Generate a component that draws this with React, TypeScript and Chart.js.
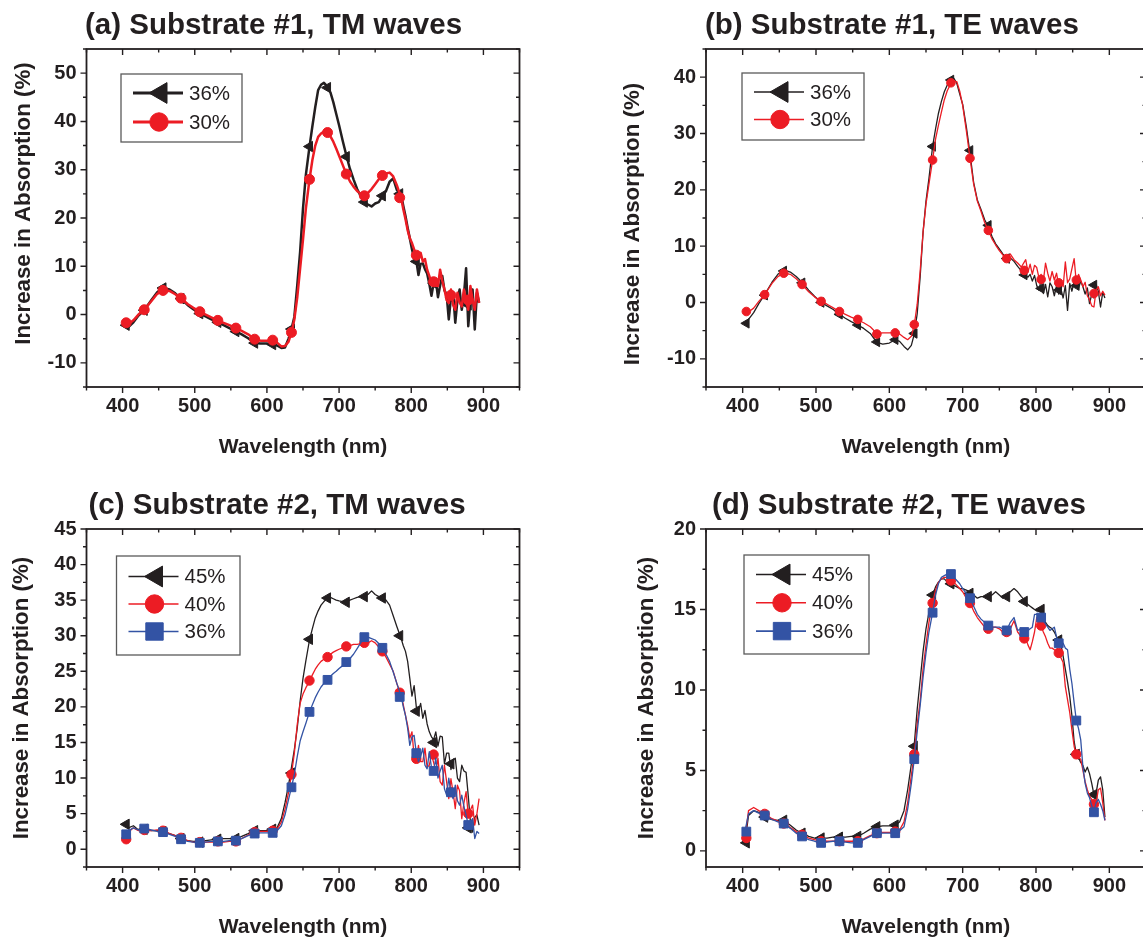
import React, { useEffect, useRef } from 'react';
import { Chart, registerables } from 'chart.js';
import { drawPoint } from 'chart.js/helpers';

Chart.register(...registerables);

const FONT = '"Liberation Sans", Arial, Helvetica, sans-serif';
const INK = '#231f20';
const BLACK = '#231f20';
const RED = '#ec1c24';
const BLUE = '#3353a4';

// Wavelength grid (nm) shared by every curve
const wavelength = [
  403, 408, 415, 422, 430, 440, 448, 456, 465, 473, 481, 490, 498, 507, 515, 523, 532, 540, 548, 557, 565, 574, 583, 591, 600, 608, 614, 620, 625, 630,
  634, 638, 642, 646, 650, 654, 659, 663, 667, 671, 675, 679, 684, 688, 692, 696, 700,
  705, 710, 715, 720, 725, 730, 735, 740, 745, 750, 755, 760, 765, 770, 775, 780, 786,
  789, 792, 795, 798, 801, 804, 807, 810, 813, 816, 819, 822, 825, 828, 831, 834, 837, 840, 843, 846, 849, 852, 855, 858, 861, 864, 867, 870, 873, 876, 879, 882, 885, 888, 891, 894,
];
// Wavelengths where the symbols sit
const markerWavelength = [405, 430, 456, 481, 507, 532, 557, 583, 608, 634, 659, 684, 710, 735, 760, 784, 807, 831, 855, 879];

// (a) Substrate #1, TM waves
const aTM36 = [
  -1.8, -2.6, -1.6, -0.2, 0.9, 3.0, 4.6, 5.5, 5.2, 4.4, 3.3, 2.0, 1.1, 0.2, -0.4, -1.0, -1.6, -2.2, -2.8, -3.5, -4.1, -4.9, -5.9, -6.0, -6.0, -6.2, -6.4, -6.9, -6.8, -5.0,
  -3.0, -0.5, 6, 13, 22, 29, 34.8, 39, 43, 46.5, 47.6, 48.0, 47.2, 46.0, 44.0, 41.6, 39.2,
  36.0, 33.0, 30.2, 28.0, 26.0, 24.5, 23.3, 22.8, 22.4, 23.0, 23.3, 24.5, 25.6, 27.5, 28.2, 25.8, 24.8,
  22.5, 20.4, 18.0, 15.8, 13.5, 11.8, 11.2, 8.2, 10.5, 10.6, 9.4, 8.5, 6.4, 3.9, 6.5, 7.2, 3.6, 6.0, 8.0, 5.0, 4.2, -1.0, 3.5, 4.6, -1.7, 3.0, 5.2, 1.0, 4.0, 9.6, -2.4, 3.0, 5.2, -3.1, 4.5, 2.5,
];
const aTM30 = [
  -1.7, -2.0, -1.2, 0.0, 1.0, 2.8, 4.3, 5.0, 4.9, 4.2, 3.4, 2.2, 1.4, 0.6, 0.0, -0.6, -1.2, -1.7, -2.2, -2.8, -3.4, -4.1, -5.1, -5.4, -5.4, -5.3, -5.8, -6.6, -6.5, -5.6,
  -3.7, -1.0, 3.5, 9.5, 15.5, 22.0, 28.0, 32.0, 35.0, 36.8, 37.5, 37.9, 37.7, 36.9, 35.8, 34.4, 32.9,
  31.0, 29.1, 27.6, 26.5, 25.6, 25.0, 24.6, 25.2, 26.0, 27.0, 28.0, 28.8, 29.2, 29.4, 28.6, 26.8, 24.2,
  21.8, 19.8, 17.5, 15.8, 14.8, 13.5, 12.2, 12.4, 12.8, 11.0, 11.5, 9.3, 8.0, 6.6, 7.2, 6.0, 5.9, 9.3, 7.0, 5.2, 3.0, 2.4, 5.2, 2.0, 1.0, 4.5, 2.5, 1.7, 5.2, 3.0, 1.0, 5.9, 3.0, 1.0, 5.2, 2.4,
];
const aTM36Markers = [-2.2, 0.9, 5.5, 3.3, 0.2, -1.6, -3.5, -5.9, -6.2, -3.0, 34.8, 47.0, 32.7, 23.3, 24.6, 25.0, 11.0, 6.5, 3.5, 2.0];
const aTM30Markers = [-1.7, 1.0, 5.0, 3.4, 0.6, -1.2, -2.8, -5.1, -5.3, -3.7, 28.0, 37.7, 29.1, 24.6, 28.8, 24.2, 12.3, 6.8, 4.0, 3.0];

// (b) Substrate #1, TE waves
const bTE36 = [
  -3.8, -3.0, -1.8, -0.2, 1.4, 3.6, 5.0, 5.8, 5.4, 4.6, 3.6, 2.2, 1.1, 0.0, -0.6, -1.2, -2.1, -2.8, -3.4, -4.0, -4.6, -5.5, -7.1, -7.4, -7.2, -6.6, -6.9, -7.8, -8.4, -7.6,
  -5.6, -2.0, 4.5, 12.5, 18.0, 22.0, 27.7, 30.8, 33.6, 35.7, 37.4, 38.6, 39.5, 39.8, 38.9, 37.0, 35.2,
  31.2, 26.5, 21.3, 18.2, 16.5, 14.7, 13.4, 11.7, 10.4, 9.5, 8.6, 7.8, 7.9, 7.3, 6.4, 5.6, 4.7,
  4.5, 5.0, 3.8, 4.8, 3.0, 2.2, 4.0, 1.6, 3.2, 1.0, 3.5, 2.8, 1.2, 3.0, 1.5, 2.4, 0.8, 3.0, -1.4, 3.4, 2.0, 3.8, 4.2, 2.5, 3.8, 2.8, 1.5, 2.6, -0.2, 1.5, 0.8, 3.2, 2.0, -0.8, 1.8, 0.8,
];
const bTE30 = [
  -1.6, -1.7, -1.0, 0.2, 1.4, 3.4, 4.6, 5.2, 5.0, 4.2, 3.2, 1.9, 1.0, 0.2, -0.3, -0.9, -1.6, -2.1, -2.6, -3.1, -3.6, -4.3, -5.5, -5.4, -5.4, -5.3, -5.6, -6.2, -6.6, -6.0,
  -4.0, -0.3, 5.5, 12.5, 17.5, 21.0, 25.3, 29.0, 31.5, 33.8, 36.0, 37.6, 38.9, 39.3, 39.2, 37.5, 35.0,
  30.5, 25.6, 21.0, 18.0, 16.2, 14.2, 12.8, 11.3, 10.2, 9.2, 8.4, 7.8, 8.6, 7.6, 7.0, 6.3, 7.6,
  5.4, 6.8, 5.0, 6.6, 6.2, 4.4, 5.0, 3.8, 7.0, 5.2, 3.8, 5.5, 4.0, 5.2, 3.0, 4.0, 2.8, 7.2, 3.5, 4.2, 6.0, 7.8, 3.5, 5.0, 4.0, 2.8, 3.6, 1.2, 0.5, -0.6, -0.8, 2.2, 2.8, 1.2, 2.0, 1.3,
];
const bTE36Markers = [-3.7, 1.3, 5.6, 3.5, 0.0, -2.1, -4.0, -7.0, -6.6, -5.5, 27.7, 39.5, 27.0, 13.7, 7.8, 4.9, 2.5, 2.2, 3.0, 3.1];
const bTE30Markers = [-1.6, 1.4, 5.2, 3.2, 0.2, -1.6, -3.0, -5.6, -5.4, -3.9, 25.3, 39.0, 25.6, 12.8, 7.8, 5.7, 4.1, 3.5, 4.0, 1.6];

// (c) Substrate #2, TM waves
const cTM45 = [
  3.5, 3.0, 3.3, 2.7, 2.8, 2.6, 2.6, 2.5, 2.2, 1.9, 1.5, 1.2, 1.1, 1.1, 1.2, 1.3, 1.4, 1.5, 1.5, 1.5, 1.8, 2.2, 2.7, 2.6, 2.6, 2.8, 3.0, 4.3, 6.5, 9.0,
  11.5, 14.0, 17.0, 20.8, 24.0, 26.5, 29.4, 31.0, 32.5, 33.5, 34.3, 34.8, 35.3, 35.4, 35.2, 35.0, 34.9,
  34.8, 34.7, 35.0, 35.2, 35.4, 35.5, 35.5, 35.8, 36.3, 35.8, 35.5, 35.3, 35.0, 34.3, 32.8, 31.3, 29.6,
  28.6, 27.8, 26.4, 24.0, 21.5, 23.0, 20.0, 19.4, 20.5, 18.4, 19.5, 17.6, 16.5, 15.8, 15.4, 16.5, 14.5, 15.9, 15.8, 12.0, 13.5, 13.5, 11.2, 12.5, 12.8, 10.0, 9.5, 11.8, 11.0, 10.8, 7.5, 3.8, 2.4, 4.5, 4.8, 3.4,
];
const cTM40 = [
  1.4, 2.4, 3.0, 2.6, 2.6, 2.6, 2.7, 2.7, 2.2, 1.9, 1.6, 1.2, 1.0, 0.9, 1.0, 1.0, 1.0, 1.0, 1.1, 1.1, 1.5, 2.0, 2.5, 2.5, 2.5, 2.5, 2.8, 3.8, 5.6, 8.0,
  10.5, 13.5, 17.5, 20.5, 21.8, 22.7, 23.6, 24.5, 25.3, 25.9, 26.4, 26.7, 27.0, 27.4, 27.7, 27.9, 28.1,
  28.3, 28.5, 28.6, 28.8, 28.8, 28.9, 29.0, 29.0, 29.3, 29.0, 28.4, 27.8, 27.0, 26.0, 25.0, 23.3, 21.6,
  20.3, 18.8, 17.4, 15.6, 16.5, 13.0, 12.6, 14.6, 12.3, 12.3, 14.2, 11.5, 11.8, 13.2, 12.2, 10.9, 12.8, 9.5, 9.0, 11.8, 9.5, 7.1, 9.9, 8.0, 5.7, 9.0, 8.2, 4.3, 6.5, 8.1, 4.8, 5.5, 6.2, 3.4, 5.0, 7.1,
];
const cTM36 = [
  2.1, 2.6, 3.0, 2.7, 2.9, 2.7, 2.5, 2.4, 2.1, 1.8, 1.4, 1.1, 1.0, 0.9, 1.0, 1.1, 1.1, 1.1, 1.2, 1.2, 1.5, 1.9, 2.2, 2.3, 2.3, 2.3, 2.6, 3.3, 4.8, 7.0,
  8.7, 10.5, 13.0, 15.2, 16.5, 17.7, 19.3, 20.3, 21.3, 22.1, 22.8, 23.3, 23.8, 24.3, 24.7, 25.0, 25.4,
  25.8, 26.3, 26.8, 27.4, 28.2, 29.0, 29.8, 29.8, 29.6, 29.4, 28.9, 28.3, 27.4, 26.4, 24.9, 23.3, 21.5,
  20.0, 18.8, 17.0, 14.6, 15.8, 16.0, 13.5, 12.3, 13.0, 14.2, 11.8, 11.3, 13.7, 11.5, 10.9, 12.8, 10.0, 11.0, 11.8, 8.5, 7.6, 10.0, 8.0, 7.1, 9.0, 6.8, 6.2, 7.6, 6.0, 4.8, 3.4, 3.8, 4.3, 1.5, 2.5, 2.2,
];
const cTM45Markers = [3.5, 2.8, 2.5, 1.5, 1.0, 1.4, 1.5, 2.6, 2.8, 10.7, 29.5, 35.3, 34.7, 35.5, 35.3, 30.0, 19.4, 15.0, 12.0, 3.0];
const cTM40Markers = [1.4, 2.7, 2.6, 1.6, 1.0, 1.1, 1.1, 2.4, 2.6, 10.5, 23.7, 27.0, 28.5, 29.0, 27.8, 22.0, 12.7, 13.3, 8.0, 5.0];
const cTM36Markers = [2.1, 2.9, 2.4, 1.4, 0.9, 1.1, 1.2, 2.2, 2.3, 8.7, 19.3, 23.8, 26.3, 29.8, 28.3, 21.4, 13.5, 11.0, 8.0, 3.4];

// (d) Substrate #2, TE waves
const dTE45 = [
  0.5, 2.2, 2.5, 2.4, 2.1, 1.95, 1.9, 1.9, 1.6, 1.3, 1.1, 0.9, 0.8, 0.8, 0.8, 0.85, 0.85, 0.85, 0.9, 0.9, 1.1, 1.35, 1.5, 1.55, 1.55, 1.6, 1.8, 2.5, 3.8, 5.4,
  6.6, 8.8, 10.6, 12.4, 13.8, 14.8, 15.9, 16.4, 16.7, 16.9, 16.9, 16.7, 16.6, 16.5, 16.4, 16.3, 16.3,
  16.2, 16.1, 15.9, 15.7, 15.8, 15.8, 15.8, 15.9, 16.1, 15.9, 15.7, 15.9, 16.1, 16.3, 16.1, 15.8, 15.5,
  15.3, 15.2, 15.1, 15.0, 14.9, 14.9, 14.8, 14.4, 14.2, 14.0, 13.9, 13.8, 13.6, 13.3, 13.1, 12.8, 12.1, 11.3, 10.5, 9.6, 8.4, 6.8, 6.0, 5.8, 5.5, 5.3, 4.9, 5.2, 4.8, 4.2, 3.5, 3.6, 4.4, 4.6, 3.8, 2.1,
];
const dTE40 = [
  0.75, 2.5, 2.7, 2.5, 2.3, 2.0, 1.85, 1.75, 1.45, 1.2, 1.0, 0.8, 0.7, 0.6, 0.6, 0.6, 0.6, 0.6, 0.6, 0.6, 0.75, 0.95, 1.1, 1.15, 1.15, 1.15, 1.3, 1.8, 3.0, 4.7,
  6.0, 7.9, 9.3, 11.3, 12.8, 14.2, 15.4, 16.2, 16.7, 16.9, 17.0, 17.0, 16.8, 16.7, 16.5, 16.3, 16.1,
  15.7, 15.4, 14.9, 14.5, 14.2, 13.9, 13.8, 13.9, 13.9, 13.8, 13.6, 13.6, 13.8, 14.3, 13.6, 13.3, 13.2,
  12.8, 12.5, 13.0, 13.6, 14.5, 14.3, 14.0, 13.6, 13.3, 12.9, 12.6, 12.6, 12.5, 12.4, 12.3, 12.0, 11.7, 10.2, 9.4, 8.6, 7.5, 6.5, 5.9, 5.8, 5.7, 5.0, 4.3, 3.8, 3.4, 3.2, 2.9, 3.0, 3.8, 3.9, 3.0, 1.9,
];
const dTE36 = [
  1.2, 2.3, 2.5, 2.35, 2.2, 1.95, 1.8, 1.7, 1.4, 1.1, 0.9, 0.7, 0.6, 0.5, 0.55, 0.6, 0.6, 0.55, 0.5, 0.5, 0.7, 0.9, 1.1, 1.1, 1.1, 1.1, 1.25, 1.5, 2.6, 4.2,
  5.7, 7.4, 9.0, 10.8, 12.3, 13.6, 14.8, 15.9, 16.6, 17.0, 17.1, 17.2, 17.2, 17.0, 16.8, 16.6, 16.3,
  16.0, 15.7, 15.2, 14.7, 14.4, 14.2, 14.0, 13.9, 13.9, 13.9, 13.8, 13.7, 14.2, 14.5, 13.7, 13.8, 13.7,
  13.7, 13.8, 13.9, 14.7, 14.7, 14.6, 14.5, 14.3, 14.1, 13.9, 13.7, 13.8, 13.9, 13.3, 12.9, 13.0, 12.9, 12.6, 12.5, 11.3, 10.4, 9.2, 8.1, 7.6, 6.9, 5.2, 4.2, 3.6, 3.3, 2.8, 2.5, 3.0, 3.2, 2.9, 2.5, 1.9,
];
const dTE45Markers = [0.5, 2.1, 1.9, 1.1, 0.8, 0.85, 0.9, 1.5, 1.6, 6.5, 15.9, 16.6, 16.0, 15.8, 15.8, 15.5, 15.0, 13.1, 6.0, 3.5];
const dTE40Markers = [0.8, 2.3, 1.7, 1.0, 0.6, 0.6, 0.6, 1.1, 1.2, 6.0, 15.4, 16.8, 15.4, 13.8, 13.6, 13.2, 14.0, 12.3, 6.0, 2.9];
const dTE36Markers = [1.2, 2.2, 1.7, 0.9, 0.5, 0.6, 0.5, 1.1, 1.1, 5.7, 14.8, 17.2, 15.7, 14.0, 13.7, 13.6, 14.5, 12.9, 8.1, 2.4];

// Tick labels
const xMajorTicks = [400, 500, 600, 700, 800, 900];
const xMinorTicks = [350, 450, 550, 650, 750, 850, 950];
const aYTicks = [-10, 0, 10, 20, 30, 40, 50];
const aYMinor = [-15, -5, 5, 15, 25, 35, 45, 55];
const bYTicks = [-10, 0, 10, 20, 30, 40];
const bYMinor = [-15, -5, 5, 15, 25, 35, 45];
const cYTicks = [0, 5, 10, 15, 20, 25, 30, 35, 40, 45];
const cYMinor = [-2.5, 2.5, 7.5, 12.5, 17.5, 22.5, 27.5, 32.5, 37.5, 42.5];
const dYTicks = [0, 5, 10, 15, 20];
const dYMinor = [2.5, 7.5, 12.5, 17.5];

type Style = 'triangle' | 'circle' | 'rect';
interface SeriesSpec { label: string; values: number[]; markers: number[]; color: string; style: Style; }
interface PanelSpec {
  left: number; top: number; width: number; height: number;
  chartLeft: number; chartRight: number; chartTop: number; chartBottom: number;
  title: string; titleDx: number; yTitleDx: number; yTitleDy: number;
  yMin: number; yMax: number; yTicks: number[]; yMinor: number[];
  lineWidth: number; legendLineWidth: number;
  markerRadius: Record<Style, number>;
  legend: { left: number; top: number; w: number; h: number; firstDy: number; gap: number };
  series: SeriesSpec[];
}

const legendRadius: Record<Style, number> = { triangle: 12, circle: 9.2, rect: 12.3 };

const panels: PanelSpec[] = [
  {
    left: 0, top: 0, width: 560, height: 460,
    chartLeft: 86.5, chartRight: 519.5, chartTop: 49, chartBottom: 387,
    title: '(a) Substrate #1, TM waves', titleDx: -1.5, yTitleDx: -62.5, yTitleDy: 154.5,
    yMin: -15, yMax: 55, yTicks: aYTicks, yMinor: aYMinor,
    lineWidth: 2.5, legendLineWidth: 3,
    markerRadius: { triangle: 6, circle: 5, rect: 6 },
    legend: { left: 34.5, top: 25, w: 121, h: 68, firstDy: 19, gap: 29 },
    series: [
      { label: '36%', values: aTM36, markers: aTM36Markers, color: BLACK, style: 'triangle' },
      { label: '30%', values: aTM30, markers: aTM30Markers, color: RED, style: 'circle' },
    ],
  },
  {
    left: 580, top: 0, width: 580, height: 460,
    chartLeft: 126, chartRight: 566, chartTop: 49, chartBottom: 387,
    title: '(b) Substrate #1, TE waves', titleDx: -1, yTitleDx: -73.5, yTitleDy: 175,
    yMin: -15, yMax: 45, yTicks: bYTicks, yMinor: bYMinor,
    lineWidth: 1.3, legendLineWidth: 1.6,
    markerRadius: { triangle: 5.5, circle: 4.3, rect: 5.5 },
    legend: { left: 36, top: 24, w: 122, h: 67, firstDy: 19, gap: 27.5 },
    series: [
      { label: '36%', values: bTE36, markers: bTE36Markers, color: BLACK, style: 'triangle' },
      { label: '30%', values: bTE30, markers: bTE30Markers, color: RED, style: 'circle' },
    ],
  },
  {
    left: 0, top: 480, width: 560, height: 460,
    chartLeft: 86.5, chartRight: 519.5, chartTop: 49, chartBottom: 387,
    title: '(c) Substrate #2, TM waves', titleDx: 2, yTitleDx: -64.5, yTitleDy: 169,
    yMin: -2.5, yMax: 45, yTicks: cYTicks, yMinor: cYMinor,
    lineWidth: 1.3, legendLineWidth: 1.6,
    markerRadius: { triangle: 6, circle: 4.7, rect: 6.2 },
    legend: { left: 30, top: 27, w: 123.5, h: 99, firstDy: 20.5, gap: 27.5 },
    series: [
      { label: '45%', values: cTM45, markers: cTM45Markers, color: BLACK, style: 'triangle' },
      { label: '40%', values: cTM40, markers: cTM40Markers, color: RED, style: 'circle' },
      { label: '36%', values: cTM36, markers: cTM36Markers, color: BLUE, style: 'rect' },
    ],
  },
  {
    left: 580, top: 480, width: 580, height: 460,
    chartLeft: 126, chartRight: 566, chartTop: 49, chartBottom: 387,
    title: '(d) Substrate #2, TE waves', titleDx: 6, yTitleDx: -59.3, yTitleDy: 169,
    yMin: -1, yMax: 20, yTicks: dYTicks, yMinor: dYMinor,
    lineWidth: 1.3, legendLineWidth: 1.6,
    markerRadius: { triangle: 6, circle: 4.7, rect: 6.2 },
    legend: { left: 38, top: 26, w: 125, h: 99, firstDy: 19.5, gap: 28.3 },
    series: [
      { label: '45%', values: dTE45, markers: dTE45Markers, color: BLACK, style: 'triangle' },
      { label: '40%', values: dTE40, markers: dTE40Markers, color: RED, style: 'circle' },
      { label: '36%', values: dTE36, markers: dTE36Markers, color: BLUE, style: 'rect' },
    ],
  },
];

function makeDecor(spec: PanelSpec) {
  return {
    id: 'decor',
    afterDraw(chart: any) {
      const { ctx, chartArea: ca, scales } = chart;
      const xs = scales.x;
      const ys = scales.y;
      ctx.save();
      // frame
      ctx.strokeStyle = INK;
      ctx.lineWidth = 1.8;
      ctx.strokeRect(ca.left, ca.top, ca.right - ca.left, ca.bottom - ca.top);
      // ticks
      ctx.lineWidth = 1.4;
      const drawX = (vals: number[], len: number) => {
        vals.forEach((v) => {
          const px = xs.getPixelForValue(v);
          ctx.beginPath();
          ctx.moveTo(px, ca.bottom);
          ctx.lineTo(px, ca.bottom + len);
          ctx.moveTo(px, ca.top);
          ctx.lineTo(px, ca.top + len);
          ctx.stroke();
        });
      };
      const drawY = (vals: number[], len: number) => {
        vals.forEach((v) => {
          const py = ys.getPixelForValue(v);
          ctx.beginPath();
          ctx.moveTo(ca.left, py);
          ctx.lineTo(ca.left - len, py);
          ctx.moveTo(ca.right, py);
          ctx.lineTo(ca.right - len, py);
          ctx.stroke();
        });
      };
      drawX(xMajorTicks, 6);
      drawX(xMinorTicks, 3.5);
      drawY(spec.yTicks, 6);
      drawY(spec.yMinor, 3.5);

      // panel title
      ctx.fillStyle = INK;
      ctx.font = `bold 29.5px ${FONT}`;
      ctx.textAlign = 'left';
      ctx.textBaseline = 'alphabetic';
      ctx.fillText(spec.title, ca.left + spec.titleDx, ca.top - 15);

      // axis titles
      ctx.font = `bold 21px ${FONT}`;
      ctx.textAlign = 'center';
      ctx.textBaseline = 'middle';
      ctx.fillText('Wavelength (nm)', (ca.left + ca.right) / 2, ca.bottom + 60);
      ctx.save();
      ctx.font = `bold 22.3px ${FONT}`;
      ctx.translate(ca.left + spec.yTitleDx, ca.top + spec.yTitleDy);
      ctx.rotate(-Math.PI / 2);
      ctx.fillText('Increase in Absorption (%)', 0, 0);
      ctx.restore();

      // legend
      const L = spec.legend;
      const bx = ca.left + L.left;
      const by = ca.top + L.top;
      ctx.fillStyle = '#ffffff';
      ctx.fillRect(bx, by, L.w, L.h);
      ctx.strokeStyle = '#5a5a5a';
      ctx.lineWidth = 1.3;
      ctx.strokeRect(bx, by, L.w, L.h);
      spec.series.forEach((s, i) => {
        const y = by + L.firstDy + i * L.gap;
        ctx.strokeStyle = s.color;
        ctx.lineWidth = spec.legendLineWidth;
        ctx.beginPath();
        ctx.moveTo(bx + 12, y);
        ctx.lineTo(bx + 62, y);
        ctx.stroke();
        ctx.fillStyle = s.color;
        ctx.strokeStyle = s.color;
        ctx.lineWidth = 1;
        drawPoint(ctx, {
          pointStyle: s.style,
          rotation: s.style === 'triangle' ? -90 : 0,
          radius: legendRadius[s.style],
          borderWidth: 1,
        } as any, bx + 38 + (s.style === 'triangle' ? 2 : 0), y);
        ctx.fillStyle = INK;
        ctx.font = `20.5px ${FONT}`;
        ctx.textAlign = 'left';
        ctx.textBaseline = 'middle';
        ctx.fillText(s.label, bx + 68, y + 1);
      });
      ctx.restore();
    },
  };
}

function buildConfig(spec: PanelSpec): any {
  const datasets: any[] = [];
  const n = spec.series.length;
  spec.series.forEach((s, k) => {
    const base = (n - k) * 2;
    datasets.push({
      label: s.label + ' line',
      data: wavelength.map((x, i) => ({ x, y: s.values[i] })),
      borderColor: s.color,
      backgroundColor: s.color,
      borderWidth: spec.lineWidth,
      borderJoinStyle: 'round',
      pointRadius: 0,
      tension: 0,
      order: base,
    });
    datasets.push({
      label: s.label + ' symbols',
      data: markerWavelength.map((x, i) => ({ x, y: s.markers[i] })),
      showLine: false,
      pointStyle: s.style,
      pointRotation: s.style === 'triangle' ? -90 : 0,
      pointRadius: spec.markerRadius[s.style],
      pointBackgroundColor: s.color,
      pointBorderColor: s.color,
      pointBorderWidth: 1,
      order: base - 1,
    });
  });
  const tickFont = { family: FONT, size: 20, weight: 'bold' as const };
  return {
    type: 'line',
    data: { datasets },
    options: {
      animation: false,
      responsive: false,
      devicePixelRatio: 1,
      events: [],
      layout: {
        padding: {
          left: 0,
          top: spec.chartTop,
          right: spec.width - spec.chartRight,
          bottom: spec.height - spec.chartBottom - 70,
        },
      },
      plugins: { legend: { display: false }, tooltip: { enabled: false }, title: { display: false } },
      scales: {
        x: {
          type: 'linear',
          min: 350,
          max: 950,
          afterBuildTicks: (axis: any) => { axis.ticks = xMajorTicks.map((v) => ({ value: v })); },
          afterFit: (axis: any) => { axis.height = 70; },
          grid: { display: false, drawTicks: false },
          border: { display: false },
          ticks: { font: tickFont, color: INK, padding: 7, autoSkip: false, maxRotation: 0 },
        },
        y: {
          type: 'linear',
          min: spec.yMin,
          max: spec.yMax,
          afterBuildTicks: (axis: any) => { axis.ticks = spec.yTicks.map((v) => ({ value: v })); },
          afterFit: (axis: any) => { axis.width = spec.chartLeft; },
          grid: { display: false, drawTicks: false },
          border: { display: false },
          ticks: { font: tickFont, color: INK, padding: 10, autoSkip: false },
        },
      },
    },
    plugins: [makeDecor(spec)],
  };
}

function Panel({ spec }: { spec: PanelSpec }) {
  const ref = useRef<HTMLCanvasElement>(null);
  useEffect(() => {
    if (!ref.current) return;
    const chart = new Chart(ref.current, buildConfig(spec));
    return () => chart.destroy();
  }, [spec]);
  return (
    <canvas
      ref={ref}
      width={spec.width}
      height={spec.height}
      style={{ position: 'absolute', left: spec.left, top: spec.top, width: spec.width, height: spec.height }}
    />
  );
}

export default function App() {
  return (
    <div style={{ position: 'absolute', left: 0, top: 0, width: 1143, height: 940, overflow: 'hidden', background: '#ffffff' }}>
      {panels.map((p, i) => (
        <Panel key={i} spec={p} />
      ))}
    </div>
  );
}
